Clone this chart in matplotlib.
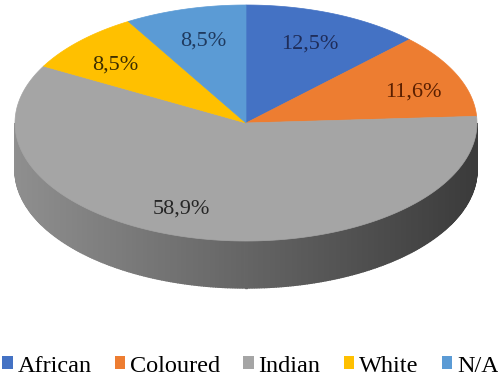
import numpy as np
import matplotlib
matplotlib.use("Agg")
import matplotlib.pyplot as plt
from matplotlib.patches import Polygon, Patch

groups = ["African", "Coloured", "Indian", "White", "N/A"]
shares = [12.5, 11.6, 58.9, 8.5, 8.5]
labels = ["12,5%", "11,6%", "58,9%", "8,5%", "8,5%"]
colors = ["#4472C4", "#ED7D31", "#A5A5A5", "#FFC000", "#5B9BD5"]
label_colors = ["#1F2D5A", "#5A1F00", "#262626", "#3D2E00", "#1F3A5F"]

SERIF = ["Liberation Serif", "DejaVu Serif"]

# geometry of the projected pie (pixel units)
cx, cy = 246, 123
rx, ry = 231, 118
depth = 47

fig = plt.figure(figsize=(4.98, 3.81), dpi=100)
ax = fig.add_axes([0, 0, 1, 1])
ax.set_xlim(0, 498)
ax.set_ylim(381, 0)
ax.axis("off")

def pt(theta):
    return cx + rx * np.cos(theta), cy - ry * np.sin(theta)

# slice angle ranges, clockwise from 12 o'clock
fracs = np.array(shares) / sum(shares)
starts = np.pi / 2 - 2 * np.pi * np.concatenate([[0], np.cumsum(fracs)[:-1]])
ends = starts - 2 * np.pi * fracs

# side wall with horizontal shading
n = 300
th = np.linspace(np.pi, 2 * np.pi, n)
for i in range(n - 1):
    x0, y0 = pt(th[i])
    x1, y1 = pt(th[i + 1])
    t = (x0 - (cx - rx)) / (2 * rx)
    g = 0.56 - 0.33 * t
    col = (g, g, g)
    ax.add_patch(Polygon([(x0, y0), (x1, y1), (x1, y1 + depth), (x0, y0 + depth)],
                         closed=True, fc=col, ec=col, lw=1.0))

# top face wedges
for s, e, c in zip(starts, ends, colors):
    a = np.linspace(s, e, 200)
    xs, ys = pt(a)
    verts = [(cx, cy)] + list(zip(xs, ys))
    ax.add_patch(Polygon(verts, closed=True, fc=c, ec=c, lw=0.5))

# data labels
label_pos = [(310, 44), (413, 92), (181, 209), (115, 65), (203, 41)]
for (x, y), txt, lc in zip(label_pos, labels, label_colors):
    ax.text(x, y, txt, ha="center", va="center", fontsize=16,
            family=SERIF, color=lc)

handles = [Patch(fc=c, ec="none") for c in colors]
fig.legend(handles, groups, loc="center", bbox_to_anchor=(0.503, 1 - 366 / 381),
           ncol=5, frameon=False, prop={"family": SERIF, "size": 17.5},
           handlelength=0.43, handleheight=0.43, handletextpad=0.2,
           columnspacing=0.95, borderpad=0, borderaxespad=0)

fig.savefig("out.png", dpi=100)
